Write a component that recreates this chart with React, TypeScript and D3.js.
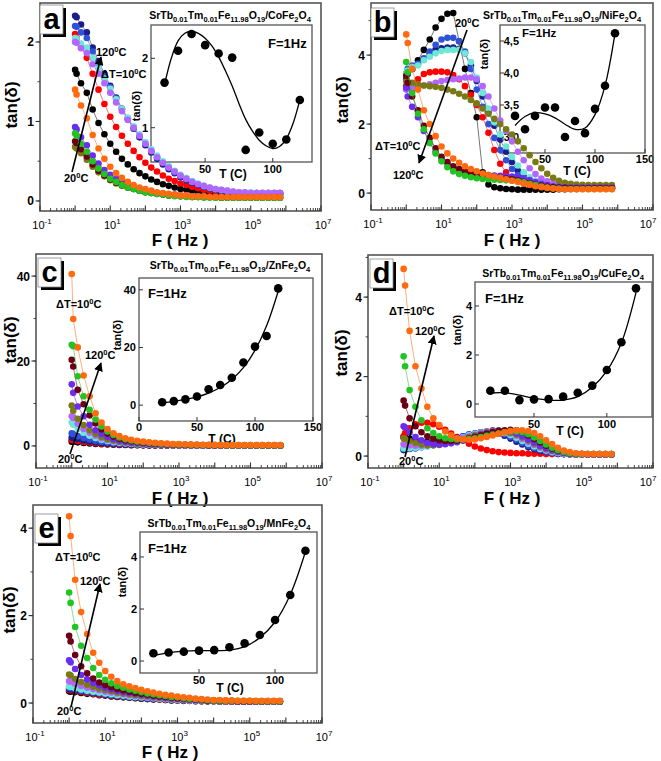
import React from 'react';
import * as d3 from 'd3';

// ---------------- DATA ----------------
const FREQ = [1, 1.1, 1.47, 2.15, 3.16, 4.64, 6.81, 10, 14.7, 21.5, 31.6, 46.4, 68.1, 100, 147, 215, 316, 464, 681, 1000,
  1470, 2150, 3160, 4640, 6810, 1e4, 1.47e4, 2.15e4, 3.16e4, 4.64e4, 6.81e4, 1e5, 1.47e5, 2.15e5, 3.16e5, 4.64e5, 6.81e5];
const TEMPS = [20, 30, 40, 50, 60, 70, 80, 90, 100, 110, 120];

// tan(δ) vs F, one row per temperature (20..120 °C)
const CO_TAN = [
  [1.65,1.6,1.48,1.36,1.15,0.98,0.84,0.72,0.62,0.53,0.46,0.40,0.35,0.31,0.27,0.24,0.21,0.19,0.17,0.15,0.14,0.13,0.12,0.11,0.1,0.1,0.09,0.09,0.09,0.08,0.08,0.08,0.08,0.08,0.08,0.08,0.08],
  [2.1,2.05,1.95,1.8,1.6,1.4,1.22,1.06,0.93,0.82,0.72,0.63,0.55,0.48,0.42,0.37,0.32,0.28,0.25,0.22,0.2,0.18,0.16,0.14,0.13,0.12,0.11,0.1,0.1,0.09,0.09,0.09,0.09,0.09,0.09,0.09,0.09],
  [2.33,2.31,2.22,2.12,1.93,1.76,1.6,1.45,1.3,1.16,1.03,0.91,0.8,0.7,0.61,0.53,0.46,0.4,0.35,0.3,0.26,0.23,0.2,0.18,0.16,0.14,0.13,0.12,0.11,0.1,0.1,0.1,0.1,0.1,0.1,0.1,0.1],
  [2.2,2.19,2.12,2.05,1.88,1.72,1.57,1.43,1.29,1.16,1.04,0.93,0.82,0.72,0.63,0.55,0.48,0.42,0.36,0.31,0.27,0.24,0.21,0.18,0.16,0.14,0.13,0.12,0.11,0.1,0.1,0.1,0.1,0.1,0.1,0.1,0.1],
  [2.05,2.04,1.98,1.93,1.8,1.67,1.54,1.41,1.28,1.16,1.05,0.94,0.84,0.74,0.65,0.57,0.5,0.44,0.38,0.33,0.29,0.25,0.22,0.19,0.17,0.15,0.14,0.13,0.12,0.11,0.11,0.11,0.1,0.1,0.1,0.1,0.1],
  [2.0,1.99,1.92,1.86,1.72,1.6,1.48,1.36,1.24,1.13,1.02,0.92,0.82,0.72,0.63,0.55,0.48,0.42,0.37,0.32,0.28,0.24,0.21,0.19,0.17,0.15,0.14,0.13,0.12,0.11,0.11,0.1,0.1,0.1,0.1,0.1,0.1],
  [0.68,0.66,0.6,0.52,0.43,0.36,0.31,0.26,0.22,0.19,0.17,0.15,0.13,0.11,0.1,0.09,0.08,0.07,0.07,0.06,0.06,0.05,0.05,0.05,0.05,0.04,0.04,0.04,0.04,0.04,0.04,0.04,0.04,0.04,0.04,0.04,0.04],
  [0.93,0.9,0.8,0.7,0.57,0.47,0.39,0.33,0.28,0.24,0.2,0.17,0.15,0.13,0.12,0.1,0.09,0.08,0.08,0.07,0.07,0.06,0.06,0.06,0.05,0.05,0.05,0.05,0.05,0.05,0.05,0.05,0.05,0.05,0.05,0.05,0.05],
  [0.75,0.73,0.65,0.56,0.46,0.38,0.32,0.27,0.23,0.2,0.17,0.15,0.13,0.11,0.1,0.09,0.08,0.07,0.07,0.06,0.06,0.05,0.05,0.05,0.05,0.05,0.04,0.04,0.04,0.04,0.04,0.04,0.04,0.04,0.04,0.04,0.04],
  [0.85,0.82,0.72,0.62,0.5,0.41,0.34,0.28,0.24,0.2,0.17,0.15,0.13,0.11,0.1,0.09,0.08,0.07,0.06,0.06,0.05,0.05,0.05,0.04,0.04,0.04,0.04,0.04,0.04,0.04,0.04,0.04,0.04,0.04,0.04,0.04,0.04],
  [1.4,1.34,1.2,1.04,0.83,0.66,0.53,0.43,0.35,0.29,0.24,0.2,0.17,0.15,0.13,0.11,0.1,0.09,0.08,0.07,0.07,0.06,0.06,0.06,0.05,0.05,0.05,0.05,0.05,0.05,0.05,0.05,0.05,0.05,0.05,0.05,0.05],
];

const NI_TAN = [
  [3.45,3.5,3.6,3.85,4.15,4.45,4.8,5.05,5.2,5.22,4.4,3.6,2.9,2.2,0.6,0.25,0.17,0.14,0.12,0.11,0.1,0.1,0.1,0.1,0.1,0.1,0.1,0.11,0.11,0.12,0.12,0.13,0.13,0.13,0.13,0.13,0.13],
  [3.1,3.05,3.0,3.3,3.45,3.5,3.52,3.52,3.5,3.42,3.3,3.1,2.85,2.55,2.2,1.75,1.25,0.85,0.6,0.45,0.35,0.28,0.24,0.21,0.19,0.18,0.17,0.16,0.16,0.15,0.15,0.15,0.15,0.15,0.15,0.15,0.15],
  [3.3,3.45,3.6,3.75,3.9,4.05,4.15,4.2,4.22,4.22,4.18,4.05,3.7,3.25,2.8,2.35,1.95,1.55,1.2,0.9,0.65,0.48,0.37,0.3,0.25,0.21,0.19,0.17,0.16,0.15,0.15,0.15,0.15,0.15,0.15,0.15,0.15],
  [3.45,3.6,3.7,3.75,3.9,4.1,4.3,4.45,4.5,4.5,4.4,4.1,3.6,3.0,2.5,2.0,1.6,1.25,0.95,0.7,0.52,0.4,0.32,0.26,0.22,0.2,0.18,0.17,0.16,0.15,0.15,0.15,0.15,0.15,0.15,0.15,0.15],
  [3.45,3.55,3.65,3.7,3.85,3.95,4.05,4.12,4.15,4.15,4.15,4.05,3.8,3.35,2.9,2.45,2.05,1.7,1.35,1.05,0.8,0.6,0.46,0.36,0.3,0.26,0.23,0.21,0.2,0.19,0.19,0.19,0.19,0.19,0.19,0.19,0.19],
  [3.0,3.02,3.05,3.1,3.12,3.15,3.2,3.25,3.28,3.3,3.32,3.35,3.35,3.3,3.1,2.8,2.45,2.1,1.8,1.5,1.2,0.95,0.72,0.55,0.42,0.34,0.28,0.24,0.22,0.21,0.2,0.2,0.2,0.2,0.2,0.2,0.2],
  [3.25,3.22,3.2,3.15,3.12,3.1,3.08,3.05,3.0,2.95,2.88,2.8,2.7,2.6,2.45,2.3,2.15,2.0,1.85,1.7,1.5,1.3,1.1,0.9,0.72,0.56,0.44,0.36,0.3,0.27,0.25,0.24,0.23,0.23,0.23,0.23,0.23],
  [3.05,2.8,2.5,2.2,1.8,1.45,1.2,1.0,0.85,0.75,0.68,0.62,0.58,0.55,0.53,0.52,0.51,0.5,0.49,0.48,0.46,0.43,0.38,0.32,0.27,0.23,0.2,0.18,0.17,0.16,0.16,0.16,0.16,0.16,0.16,0.16,0.16],
  [3.4,3.2,2.8,2.4,1.95,1.6,1.3,1.05,0.9,0.78,0.7,0.63,0.58,0.54,0.5,0.48,0.46,0.44,0.42,0.4,0.37,0.33,0.29,0.25,0.22,0.19,0.17,0.16,0.15,0.14,0.14,0.14,0.14,0.14,0.14,0.14,0.14],
  [3.8,3.5,2.9,2.3,1.85,1.45,1.15,0.92,0.75,0.63,0.55,0.5,0.46,0.43,0.41,0.4,0.39,0.38,0.37,0.36,0.34,0.31,0.27,0.23,0.19,0.16,0.14,0.13,0.12,0.12,0.12,0.12,0.12,0.12,0.12,0.12,0.12],
  [4.6,4.35,3.6,3.0,2.4,2.0,1.65,1.35,1.15,1.0,0.88,0.78,0.7,0.63,0.57,0.52,0.48,0.44,0.4,0.36,0.32,0.28,0.24,0.2,0.17,0.15,0.13,0.12,0.11,0.11,0.11,0.11,0.11,0.11,0.11,0.11,0.11],
];

const ZN_TAN = [
  [1.0,0.97,0.84,0.7,0.58,0.48,0.4,0.33,0.28,0.24,0.21,0.18,0.16,0.14,0.12,0.11,0.1,0.09,0.08,0.08,0.07,0.07,0.06,0.06,0.06,0.06,0.06,0.06,0.06,0.06,0.06,0.06,0.06,0.06,0.06,0.06,0.06],
  [1.4,1.35,1.15,0.95,0.78,0.64,0.53,0.44,0.37,0.31,0.27,0.23,0.2,0.18,0.16,0.14,0.12,0.11,0.1,0.09,0.09,0.08,0.08,0.07,0.07,0.07,0.07,0.07,0.07,0.07,0.07,0.07,0.07,0.07,0.07,0.07,0.07],
  [2.0,1.9,1.6,1.3,1.05,0.86,0.7,0.58,0.48,0.4,0.34,0.29,0.25,0.22,0.19,0.17,0.15,0.13,0.12,0.11,0.1,0.09,0.09,0.08,0.08,0.08,0.07,0.07,0.07,0.07,0.07,0.07,0.07,0.07,0.07,0.07,0.07],
  [3.0,2.8,2.3,1.85,1.5,1.2,0.95,0.78,0.64,0.53,0.45,0.38,0.32,0.28,0.24,0.21,0.19,0.17,0.15,0.13,0.12,0.11,0.1,0.1,0.09,0.09,0.08,0.08,0.08,0.08,0.08,0.08,0.08,0.08,0.08,0.08,0.08],
  [5.5,5.0,4.0,3.1,2.4,1.85,1.45,1.15,0.9,0.73,0.6,0.5,0.42,0.36,0.31,0.27,0.23,0.2,0.18,0.16,0.14,0.13,0.12,0.11,0.1,0.1,0.09,0.09,0.09,0.09,0.09,0.09,0.09,0.09,0.09,0.09,0.09],
  [7.0,6.6,5.2,4.0,3.1,2.4,1.8,1.4,1.1,0.88,0.72,0.6,0.5,0.42,0.36,0.31,0.27,0.23,0.2,0.18,0.16,0.14,0.13,0.12,0.11,0.1,0.1,0.1,0.1,0.1,0.1,0.1,0.1,0.1,0.1,0.1,0.1],
  [9.5,8.3,6.4,4.9,3.7,2.8,2.1,1.6,1.25,1.0,0.8,0.65,0.54,0.45,0.38,0.32,0.28,0.24,0.21,0.19,0.17,0.15,0.14,0.13,0.12,0.11,0.11,0.1,0.1,0.1,0.1,0.1,0.1,0.1,0.1,0.1,0.1],
  [14.5,12.5,9.3,7.0,5.0,3.7,2.8,2.1,1.6,1.25,1.0,0.82,0.68,0.57,0.48,0.41,0.35,0.3,0.26,0.23,0.21,0.19,0.17,0.16,0.15,0.14,0.13,0.13,0.13,0.13,0.13,0.13,0.13,0.13,0.13,0.13,0.13],
  [20.3,18.7,13.2,9.8,7.2,5.3,3.9,2.9,2.2,1.7,1.35,1.1,0.9,0.75,0.63,0.53,0.45,0.39,0.34,0.3,0.27,0.24,0.22,0.2,0.18,0.17,0.16,0.15,0.15,0.15,0.15,0.15,0.15,0.15,0.15,0.15,0.15],
  [23.8,23.5,16.4,11.7,8.5,6.2,4.6,3.4,2.6,2.0,1.6,1.3,1.05,0.9,0.75,0.63,0.54,0.47,0.41,0.36,0.32,0.28,0.25,0.23,0.21,0.2,0.19,0.18,0.18,0.18,0.18,0.18,0.18,0.18,0.18,0.18,0.18],
  [40.5,29.9,23.2,16.6,11.7,7.7,5.5,4.0,3.0,2.3,1.8,1.45,1.2,1.0,0.85,0.72,0.62,0.54,0.47,0.42,0.38,0.34,0.31,0.28,0.26,0.24,0.23,0.22,0.21,0.2,0.2,0.2,0.2,0.2,0.2,0.2,0.2],
];

const CU_TAN = [
  [0.48,0.47,0.44,0.4,0.37,0.35,0.34,0.35,0.37,0.4,0.44,0.48,0.52,0.56,0.6,0.62,0.64,0.64,0.62,0.58,0.51,0.43,0.35,0.27,0.2,0.15,0.11,0.08,0.06,0.05,0.04,0.04,0.04,0.04,0.04,0.04,0.04],
  [0.5,0.58,0.7,0.8,0.84,0.84,0.8,0.74,0.66,0.57,0.48,0.39,0.31,0.24,0.19,0.15,0.12,0.1,0.09,0.08,0.07,0.07,0.06,0.06,0.06,0.05,0.05,0.05,0.05,0.05,0.05,0.05,0.05,0.05,0.05,0.05,0.05],
  [0.15,0.16,0.18,0.2,0.23,0.26,0.3,0.34,0.38,0.42,0.46,0.5,0.54,0.57,0.59,0.6,0.59,0.56,0.51,0.44,0.36,0.29,0.22,0.17,0.13,0.1,0.08,0.06,0.05,0.04,0.04,0.04,0.04,0.04,0.04,0.04,0.04],
  [0.18,0.18,0.19,0.2,0.22,0.25,0.28,0.32,0.36,0.41,0.45,0.5,0.54,0.57,0.6,0.61,0.61,0.59,0.55,0.48,0.41,0.33,0.26,0.2,0.15,0.11,0.08,0.06,0.05,0.05,0.04,0.04,0.04,0.04,0.04,0.04,0.04],
  [0.2,0.2,0.2,0.21,0.22,0.24,0.27,0.3,0.34,0.38,0.43,0.47,0.52,0.56,0.59,0.61,0.62,0.61,0.58,0.53,0.46,0.38,0.31,0.24,0.18,0.14,0.1,0.08,0.06,0.05,0.05,0.04,0.04,0.04,0.04,0.04,0.04],
  [0.3,0.29,0.27,0.26,0.26,0.27,0.28,0.31,0.34,0.38,0.42,0.46,0.5,0.54,0.58,0.61,0.63,0.63,0.61,0.57,0.51,0.43,0.35,0.28,0.21,0.16,0.12,0.09,0.07,0.06,0.05,0.04,0.04,0.04,0.04,0.04,0.04],
  [0.45,0.43,0.38,0.33,0.29,0.27,0.27,0.28,0.31,0.34,0.38,0.42,0.47,0.52,0.56,0.6,0.62,0.63,0.62,0.59,0.54,0.47,0.39,0.31,0.24,0.18,0.13,0.1,0.08,0.06,0.05,0.05,0.04,0.04,0.04,0.04,0.04],
  [0.75,0.72,0.6,0.48,0.4,0.33,0.3,0.29,0.3,0.32,0.35,0.39,0.44,0.49,0.54,0.58,0.61,0.63,0.63,0.61,0.57,0.5,0.42,0.34,0.26,0.2,0.15,0.11,0.08,0.06,0.05,0.05,0.04,0.04,0.04,0.04,0.04],
  [1.4,1.27,0.95,0.75,0.6,0.5,0.44,0.4,0.38,0.38,0.39,0.41,0.44,0.48,0.52,0.56,0.6,0.63,0.65,0.66,0.65,0.6,0.52,0.43,0.34,0.26,0.19,0.14,0.1,0.07,0.06,0.05,0.05,0.05,0.05,0.05,0.05],
  [2.51,2.26,1.66,1.24,0.9,0.7,0.58,0.5,0.45,0.43,0.42,0.42,0.43,0.45,0.48,0.51,0.54,0.57,0.6,0.62,0.62,0.6,0.55,0.47,0.38,0.29,0.21,0.15,0.1,0.07,0.06,0.05,0.05,0.05,0.05,0.05,0.05],
  [4.71,4.29,3.15,2.26,1.7,1.24,0.95,0.78,0.62,0.52,0.45,0.42,0.41,0.42,0.45,0.48,0.52,0.56,0.6,0.63,0.65,0.65,0.63,0.58,0.5,0.4,0.3,0.21,0.14,0.1,0.07,0.06,0.05,0.05,0.05,0.05,0.05],
];

const MN_TAN = [
  [0.27,0.26,0.25,0.23,0.21,0.2,0.18,0.17,0.15,0.14,0.13,0.12,0.11,0.1,0.09,0.08,0.08,0.07,0.06,0.06,0.05,0.05,0.04,0.04,0.04,0.04,0.03,0.03,0.03,0.03,0.03,0.03,0.03,0.03,0.03,0.03,0.03],
  [0.3,0.29,0.27,0.25,0.23,0.21,0.19,0.18,0.16,0.15,0.14,0.13,0.12,0.11,0.1,0.09,0.08,0.07,0.07,0.06,0.06,0.05,0.05,0.04,0.04,0.04,0.04,0.03,0.03,0.03,0.03,0.03,0.03,0.03,0.03,0.03,0.03],
  [0.32,0.31,0.29,0.27,0.25,0.23,0.21,0.19,0.17,0.16,0.15,0.13,0.12,0.11,0.1,0.09,0.09,0.08,0.07,0.07,0.06,0.06,0.05,0.05,0.04,0.04,0.04,0.04,0.04,0.03,0.03,0.03,0.03,0.03,0.03,0.03,0.03],
  [0.35,0.34,0.31,0.28,0.26,0.24,0.22,0.2,0.18,0.17,0.15,0.14,0.13,0.12,0.11,0.1,0.09,0.08,0.08,0.07,0.06,0.06,0.05,0.05,0.05,0.04,0.04,0.04,0.04,0.04,0.04,0.04,0.04,0.04,0.04,0.04,0.04],
  [0.38,0.37,0.34,0.31,0.28,0.26,0.24,0.22,0.2,0.18,0.17,0.15,0.14,0.13,0.12,0.11,0.1,0.09,0.08,0.07,0.07,0.06,0.06,0.05,0.05,0.04,0.04,0.04,0.04,0.04,0.04,0.04,0.04,0.04,0.04,0.04,0.04],
  [0.5,0.49,0.44,0.39,0.35,0.32,0.29,0.26,0.24,0.22,0.2,0.18,0.16,0.15,0.13,0.12,0.11,0.1,0.09,0.08,0.07,0.07,0.06,0.06,0.05,0.05,0.04,0.04,0.04,0.04,0.04,0.04,0.04,0.04,0.04,0.04,0.04],
  [0.65,0.63,0.55,0.48,0.42,0.37,0.33,0.3,0.27,0.24,0.22,0.2,0.18,0.16,0.15,0.13,0.12,0.11,0.1,0.09,0.08,0.07,0.07,0.06,0.05,0.05,0.05,0.04,0.04,0.04,0.04,0.04,0.04,0.04,0.04,0.04,0.04],
  [0.98,0.93,0.78,0.64,0.54,0.46,0.4,0.35,0.31,0.28,0.25,0.23,0.21,0.19,0.17,0.15,0.14,0.12,0.11,0.1,0.09,0.08,0.07,0.07,0.06,0.05,0.05,0.05,0.04,0.04,0.04,0.04,0.04,0.04,0.04,0.04,0.04],
  [1.54,1.41,1.1,0.84,0.68,0.56,0.47,0.41,0.36,0.32,0.29,0.26,0.23,0.21,0.19,0.17,0.15,0.14,0.12,0.11,0.1,0.09,0.08,0.07,0.06,0.06,0.05,0.05,0.05,0.04,0.04,0.04,0.04,0.04,0.04,0.04,0.04],
  [2.53,2.29,1.74,1.31,1.03,0.8,0.64,0.53,0.45,0.39,0.35,0.31,0.28,0.25,0.22,0.2,0.18,0.16,0.14,0.13,0.11,0.1,0.09,0.08,0.07,0.06,0.06,0.05,0.05,0.05,0.05,0.05,0.04,0.04,0.04,0.04,0.04],
  [4.27,3.82,2.82,2.08,1.58,1.15,0.92,0.73,0.6,0.5,0.43,0.38,0.34,0.3,0.27,0.24,0.21,0.19,0.17,0.15,0.13,0.12,0.1,0.09,0.08,0.07,0.07,0.06,0.06,0.05,0.05,0.05,0.05,0.05,0.05,0.05,0.05],
];

// insets: tan(δ) at F = 1 Hz vs T
const CO_1HZ = [1.65, 2.11, 2.35, 2.19, 2.07, 2.01, 0.68, 0.93, 0.77, 0.83, 1.40];
const NI_1HZ = [3.33, 3.12, 3.33, 3.46, 3.46, 3.0, 3.25, 3.06, 3.44, 3.8, 4.62];
const ZN_1HZ = [1.0, 1.4, 2.0, 3.0, 5.5, 7.0, 9.5, 14.8, 20.3, 24.0, 40.5];
const CU_1HZ = [0.54, 0.54, 0.16, 0.19, 0.2, 0.3, 0.46, 0.75, 1.39, 2.52, 4.72];
const MN_1HZ = [0.3, 0.33, 0.36, 0.4, 0.42, 0.53, 0.68, 1.0, 1.58, 2.54, 4.24];

// fitted curves of the insets
const CO_FIT_T = [20, 25, 30, 35, 40, 45, 50, 55, 60, 65, 70, 75, 80, 85, 90, 95, 100, 105, 110, 115, 120];
const CO_FIT = [1.62, 2.0, 2.25, 2.36, 2.39, 2.36, 2.29, 2.18, 2.02, 1.82, 1.6, 1.35, 1.12, 0.95, 0.82, 0.74, 0.7, 0.73, 0.84, 1.06, 1.4];
const FIT_T = [20, 30, 40, 50, 60, 70, 80, 90, 100, 110, 120];
const NI_FIT = [3.18, 3.32, 3.38, 3.36, 3.3, 3.2, 3.12, 3.14, 3.35, 3.8, 4.62];
const ZN_FIT = [0.8, 1.3, 2.0, 2.9, 4.2, 6.1, 8.9, 13, 19, 27.5, 39.5];
const CU_FIT = [0.45, 0.46, 0.36, 0.24, 0.16, 0.16, 0.3, 0.68, 1.35, 2.5, 4.55];
const MN_FIT = [0.2, 0.32, 0.38, 0.4, 0.4, 0.42, 0.55, 0.9, 1.5, 2.55, 4.2];

const X_LABEL_EXP = [-1, 1, 3, 5, 7];

// ---------------- STYLE ----------------
const COLORS = ['#000000', '#ff0000', '#1c1c8a', '#2f52d6', '#6ee8d6', '#b366ff', '#7a7a14', '#6a2cf0', '#6b0014', '#22c422', '#ff6a10'];
const FONT = 'Liberation Sans, Arial, Helvetica, sans-serif';

type Box = { x0: number; y0: number; x1: number; y1: number };
type InsetCfg = {
  box: Box; xDom: [number, number]; yDom: [number, number];
  xTicks: number[]; yTicks: number[]; comma?: boolean; inside?: boolean;
  pts: number[]; fitT: number[]; fit: number[];
  f1: [number, number, number]; ylab: [number, number]; xlab: [number, number]; tickY: number;
};
type PanelCfg = {
  id: string; letter: string; frame: Box; xLab: [number, number]; yLab: [number, number];
  yDom: [number, number]; yTicks: number[]; yMinor: number;
  data: number[][]; spinel: string; titleC: [number, number];
  lbox: [number, number]; inset: InsetCfg;
  arrow: [number, number, number, number];
  tHi: [number, number]; tLo: [number, number]; dT: [number, number];
};

function Deg({ pre }: { pre: string }) {
  return (
    <>
      {pre}
      <tspan dy={-4.5} fontSize={7.5}>0</tspan>
      <tspan dy={4.5}>C</tspan>
    </>
  );
}

function Formula({ cx, y, spinel }: { cx: number; y: number; spinel: string }) {
  const parts: [string, boolean][] = [
    ['SrTb', false], ['0.01', true], ['Tm', false], ['0.01', true], ['Fe', false], ['11.98', true],
    ['O', false], ['19', true], ['/' + spinel + 'Fe', false], ['2', true], ['O', false], ['4', true],
  ];
  let prevSub = false;
  return (
    <text x={cx} y={y} textAnchor="middle" fontFamily={FONT} fontWeight="bold" fontSize={10.5}>
      {parts.map(([s, sub], i) => {
        const dy = (sub ? 3 : 0) - (prevSub ? 3 : 0);
        prevSub = sub;
        return (
          <tspan key={i} dy={dy} fontSize={sub ? 7.5 : 10.5}>{s}</tspan>
        );
      })}
    </text>
  );
}

function Panel({ c }: { c: PanelCfg }) {
  const f = c.frame;
  const x = d3.scaleLog().domain([0.1, 1e7]).range([f.x0, f.x1]);
  const y = d3.scaleLinear().domain(c.yDom).range([f.y1, f.y0]);
  const clip = `clip-${c.id}`;

  const minorX: number[] = [];
  for (let e = -1; e < 7; e++) for (let m = 2; m <= 9; m++) minorX.push(m * Math.pow(10, e));
  const majorX = d3.range(-1, 8).map((e) => Math.pow(10, e));
  const minorY: number[] = [];
  for (let v = Math.ceil(c.yDom[0] / c.yMinor) * c.yMinor; v <= c.yDom[1]; v += c.yMinor) minorY.push(v);

  const ins = c.inset;
  const ix = d3.scaleLinear().domain(ins.xDom).range([ins.box.x0, ins.box.x1]);
  const iy = d3.scaleLinear().domain(ins.yDom).range([ins.box.y1, ins.box.y0]);
  const fitLine = d3.line<number>().x((_, i) => ix(ins.fitT[i])).y((v) => iy(v)).curve(d3.curveCatmullRom.alpha(0.5));
  const fmt = (v: number) => (ins.comma ? v.toFixed(1).replace('.', ',') : String(v));
  const yLabX = ins.inside ? ins.box.x0 + 19 : ins.box.x0 - 3;

  const line = d3.line<number>().x((_, i) => x(FREQ[i])).y((v) => y(v));

  return (
    <g>
      <defs>
        <clipPath id={clip}>
          <rect x={f.x0} y={f.y0} width={f.x1 - f.x0} height={f.y1 - f.y0} />
        </clipPath>
      </defs>

      {/* inset */}
      <g>
        <rect x={ins.box.x0} y={ins.box.y0} width={ins.box.x1 - ins.box.x0} height={ins.box.y1 - ins.box.y0}
          fill="none" stroke="#555" strokeWidth={1.3} />
        {ins.xTicks.map((t) => (
          <g key={'ix' + t}>
            <line x1={ix(t)} x2={ix(t)} y1={ins.box.y1} y2={ins.box.y1 - 4} stroke="#333" />
            <text x={ix(t)} y={ins.tickY} textAnchor="middle" fontFamily={FONT} fontWeight="bold" fontSize={11}>{t}</text>
          </g>
        ))}
        {ins.yTicks.map((t) => (
          <g key={'iy' + t}>
            <line x1={ins.box.x0} x2={ins.box.x0 + 4} y1={iy(t)} y2={iy(t)} stroke="#333" />
            <text x={yLabX} y={iy(t) + 4} textAnchor="end" fontFamily={FONT} fontWeight="bold" fontSize={11}>{fmt(t)}</text>
          </g>
        ))}
        <path d={fitLine(ins.fit) || ''} fill="none" stroke="#000" strokeWidth={1.3} />
        {ins.pts.map((v, i) => (
          <circle key={'ip' + i} cx={ix(TEMPS[i])} cy={iy(v)} r={4.3} fill="#000" />
        ))}
        <text x={ins.f1[0]} y={ins.f1[1]} fontFamily={FONT} fontWeight="bold" fontSize={ins.f1[2]}>F=1Hz</text>
        <text transform={`translate(${ins.ylab[0]},${ins.ylab[1]}) rotate(-90)`} textAnchor="middle"
          fontFamily={FONT} fontWeight="bold" fontSize={11}>tan(δ)</text>
        <text x={ins.xlab[0]} y={ins.xlab[1]} textAnchor="middle" fontFamily={FONT} fontWeight="bold" fontSize={12}>T (C)</text>
      </g>

      {/* data */}
      <g clipPath={`url(#${clip})`}>
        {c.data.map((row, si) => (
          <g key={'s' + si}>
            <path d={line(row.slice(0, FREQ.length)) || ''} fill="none" stroke={COLORS[si]} strokeOpacity={0.6} strokeWidth={0.9} />
            {row.slice(0, FREQ.length).map((v, i) => (
              <circle key={i} cx={x(FREQ[i])} cy={y(v)} r={3.3} fill={COLORS[si]} />
            ))}
          </g>
        ))}
      </g>

      {/* frame */}
      <rect x={f.x0} y={f.y0} width={f.x1 - f.x0} height={f.y1 - f.y0} fill="none" stroke="#555" strokeWidth={1.6} />

      {/* x ticks */}
      {minorX.map((t, i) => (
        <line key={'mx' + i} x1={x(t)} x2={x(t)} y1={f.y1} y2={f.y1 - 3} stroke="#333" strokeWidth={0.9} />
      ))}
      {majorX.map((t, i) => (
        <line key={'Mx' + i} x1={x(t)} x2={x(t)} y1={f.y1} y2={f.y1 - 5.5} stroke="#333" strokeWidth={1.1} />
      ))}
      {X_LABEL_EXP.map((e) => (
        <text key={'xl' + e} x={Math.min(x(Math.pow(10, e)) + 2, 648)} y={f.y1 + 18} textAnchor="middle" fontFamily={FONT} fontSize={11}>
          10<tspan dy={-5} fontSize={8}>{e}</tspan>
        </text>
      ))}

      {/* y ticks */}
      {minorY.map((t, i) => (
        <line key={'my' + i} x1={f.x0} x2={f.x0 - 2.5} y1={y(t)} y2={y(t)} stroke="#333" strokeWidth={0.9} />
      ))}
      {c.yTicks.map((t) => (
        <g key={'yt' + t}>
          <line x1={f.x0} x2={f.x0 - 4.5} y1={y(t)} y2={y(t)} stroke="#333" strokeWidth={1.1} />
          <text x={f.x0 - 6} y={y(t) + 4.5} textAnchor="end" fontFamily={FONT} fontWeight="bold" fontSize={12}>{t}</text>
        </g>
      ))}

      {/* axis titles */}
      <text x={c.xLab[0]} y={c.xLab[1]} textAnchor="middle" fontFamily={FONT} fontWeight="bold" fontSize={17}>F ( Hz )</text>
      <text transform={`translate(${c.yLab[0]},${c.yLab[1]}) rotate(-90)`} textAnchor="middle" fontFamily={FONT}
        fontWeight="bold" fontSize={17}>tan(δ)</text>

      {/* panel letter */}
      <rect x={c.lbox[0] + 3} y={c.lbox[1] + 3} width={23} height={29} fill="#000" />
      <rect x={c.lbox[0]} y={c.lbox[1]} width={23} height={29} fill="#fff" stroke="#888" strokeWidth={0.8} />
      <text x={c.lbox[0] + 11.5} y={c.lbox[1] + 24} textAnchor="middle" fontFamily={FONT} fontWeight="bold" fontSize={29}>{c.letter}</text>

      <Formula cx={c.titleC[0]} y={c.titleC[1]} spinel={c.spinel} />

      {/* annotations */}
      <line x1={c.arrow[0]} y1={c.arrow[1]} x2={c.arrow[2]} y2={c.arrow[3]} stroke="#000" strokeWidth={1.6} markerEnd="url(#arrowhead)" />
      <text x={c.tHi[0]} y={c.tHi[1]} fontFamily={FONT} fontWeight="bold" fontSize={11}><Deg pre="120" /></text>
      <text x={c.tLo[0]} y={c.tLo[1]} fontFamily={FONT} fontWeight="bold" fontSize={11}><Deg pre="20" /></text>
      <text x={c.dT[0]} y={c.dT[1]} fontFamily={FONT} fontWeight="bold" fontSize={11}><Deg pre="ΔT=10" /></text>
    </g>
  );
}

const PANELS: PanelCfg[] = [
  {
    id: 'a', letter: 'a', frame: { x0: 40, y0: 3, x1: 321, y1: 211 }, xLab: [180, 246], yLab: [17, 105],
    yDom: [-0.126, 2.49], yTicks: [0, 1, 2], yMinor: 0.5, data: CO_TAN, spinel: 'Co', titleC: [230, 19],
    lbox: [40, 5],
    inset: {
      box: { x0: 151, y0: 25, x1: 312, y1: 162 }, xDom: [10, 129], yDom: [0.506, 2.48], xTicks: [50, 100], yTicks: [1, 2],
      pts: CO_1HZ, fitT: CO_FIT_T, fit: CO_FIT, f1: [268, 48, 13], ylab: [140, 106], xlab: [233, 178], tickY: 173,
    },
    arrow: [72, 172, 101, 57], tHi: [96, 56], tLo: [64, 182], dT: [101, 78],
  },
  {
    id: 'b', letter: 'b', frame: { x0: 371, y0: 3, x1: 653, y1: 210 }, xLab: [512, 246], yLab: [348, 100],
    yDom: [-0.49, 5.51], yTicks: [0, 2, 4], yMinor: 1, data: NI_TAN, spinel: 'Ni', titleC: [562, 19],
    lbox: [371, 8],
    inset: {
      box: { x0: 500, y0: 25, x1: 645, y1: 153 }, xDom: [5, 150], yDom: [2.75, 4.75], xTicks: [50, 100, 150],
      yTicks: [3.0, 3.5, 4.0, 4.5], comma: true, inside: true,
      pts: NI_1HZ, fitT: FIT_T, fit: NI_FIT, f1: [522, 37, 11.5], ylab: [488, 54], xlab: [577, 175], tickY: 163,
    },
    arrow: [467, 30, 419, 163], tHi: [393, 179], tLo: [455, 27], dT: [375, 150],
  },
  {
    id: 'c', letter: 'c', frame: { x0: 36, y0: 254, x1: 322, y1: 468 }, xLab: [180, 504], yLab: [16, 340],
    yDom: [-5.2, 45.2], yTicks: [0, 20, 40], yMinor: 10, data: ZN_TAN, spinel: 'Zn', titleC: [230, 269],
    lbox: [38, 258],
    inset: {
      box: { x0: 139, y0: 278, x1: 313, y1: 421 }, xDom: [0, 150], yDom: [-5.5, 44.1], xTicks: [0, 50, 100, 150], yTicks: [0, 20, 40],
      pts: ZN_1HZ, fitT: FIT_T, fit: ZN_FIT, f1: [148, 298, 13], ylab: [121, 335], xlab: [222, 443], tickY: 431,
    },
    arrow: [70, 454, 101, 363], tHi: [85, 359], tLo: [58, 463], dT: [56, 308],
  },
  {
    id: 'd', letter: 'd', frame: { x0: 368, y0: 255, x1: 653, y1: 468 }, xLab: [512, 504], yLab: [347, 353],
    yDom: [-0.3, 5.06], yTicks: [0, 2, 4], yMinor: 1, data: CU_TAN, spinel: 'Cu', titleC: [563, 277],
    lbox: [370, 259],
    inset: {
      box: { x0: 475, y0: 282, x1: 652, y1: 417 }, xDom: [9.5, 131], yDom: [-0.53, 4.98], xTicks: [50, 100], yTicks: [0, 2, 4],
      pts: CU_1HZ, fitT: FIT_T, fit: CU_FIT, f1: [485, 303, 13], ylab: [461, 330], xlab: [570, 435], tickY: 428,
    },
    arrow: [405, 457, 434, 336], tHi: [415, 335], tLo: [399, 465], dT: [389, 315],
  },
  {
    id: 'e', letter: 'e', frame: { x0: 33, y0: 505, x1: 322, y1: 723 }, xLab: [170, 758], yLab: [15, 610],
    yDom: [-0.457, 4.53], yTicks: [0, 2, 4], yMinor: 1, data: MN_TAN, spinel: 'Mn', titleC: [229, 527],
    lbox: [35, 514],
    inset: {
      box: { x0: 140, y0: 532, x1: 317, y1: 673 }, xDom: [11.2, 127.6], yDom: [-0.46, 4.96], xTicks: [50, 100], yTicks: [0, 2, 4],
      pts: MN_1HZ, fitT: FIT_T, fit: MN_FIT, f1: [148, 553, 13], ylab: [126, 582], xlab: [230, 692], tickY: 684,
    },
    arrow: [71, 707, 100, 584], tHi: [80, 585], tLo: [57, 715], dT: [55, 561],
  },
];

export default function App() {
  return (
    <svg width={661} height={761} viewBox="0 0 661 761" style={{ position: 'absolute', left: 0, top: 0, background: '#fff' }}>
      <defs>
        <marker id="arrowhead" viewBox="0 0 10 10" refX={9} refY={5} markerWidth={9} markerHeight={9}
          markerUnits="userSpaceOnUse" orient="auto">
          <path d="M0,0 L10,5 L0,10 z" fill="#000" />
        </marker>
      </defs>
      <rect x={0} y={0} width={661} height={761} fill="#fff" />
      {PANELS.map((p) => (
        <Panel key={p.id} c={p} />
      ))}
    </svg>
  );
}
